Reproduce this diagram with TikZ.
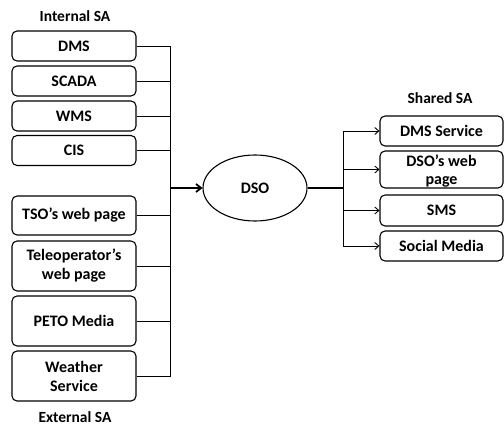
\documentclass[tikz,border=0pt]{standalone}
\usepackage{fontspec}
\setmainfont{Carlito}
\usetikzlibrary{arrows.meta,shapes.geometric}
\begin{document}
\begin{tikzpicture}[x=1pt,y=-1pt,
  sbox/.style={draw,line width=1.1pt,rounded corners=5pt,minimum width=124pt,inner sep=0pt,align=center,font=\bfseries\fontsize{16}{19}\selectfont},
  rbox/.style={draw,line width=1.1pt,rounded corners=5pt,minimum width=123pt,inner sep=0pt,align=center,font=\bfseries\fontsize{16}{18.5}\selectfont},
  lbl/.style={font=\bfseries\fontsize{15.5}{16}\selectfont},
  conn/.style={line width=0.9pt},
  arr/.style={line width=0.9pt,-{Straight Barb[length=4pt,width=7pt]}}]
\useasboundingbox (0,0) rectangle (504,425);
\node[lbl] (int) at (75,16) {Internal SA};
\node[lbl] (ext) at (75,417) {External SA};
\node[lbl] (sh) at (440,98) {Shared SA};
% left boxes
\node[sbox,minimum height=30pt] (dms) at (74,46) {DMS};
\node[sbox,minimum height=30pt] (scada) at (74,81) {SCADA};
\node[sbox,minimum height=30pt] (wms) at (74,116) {WMS};
\node[sbox,minimum height=30pt] (cis) at (74,150.5) {CIS};
\node[sbox,minimum height=39pt] (tso) at (74,215.5) {TSO’s web page};
\node[sbox,minimum height=50pt] (tel) at (74,266) {Teleoperator’s\\web page};
\node[sbox,minimum height=50pt] (peto) at (74,321) {PETO Media};
\node[sbox,minimum height=50pt] (wea) at (74,376) {Weather\\Service};
% ellipse
\node[draw,ellipse,line width=1.1pt,minimum width=104pt,minimum height=66pt,inner sep=0pt,font=\bfseries\fontsize{16}{16}\selectfont] (dso) at (255,188) {DSO};
% right boxes
\node[rbox,minimum height=30pt] (dmss) at (441.5,131) {DMS Service};
\node[rbox,minimum height=37pt,text depth=0pt] (web) at (441.5,169.5) {DSO’s web\\page};
\node[rbox,minimum height=31pt] (sms) at (441.5,210.5) {SMS};
\node[rbox,minimum height=30pt] (soc) at (441.5,246) {Social Media};
% bus left
\coordinate (bt) at (170,46);
\coordinate (bb) at (170,376);
\coordinate (bm) at (170,188);
\draw[conn] (dms.east) -- (bt) -- (bb) -- (wea.east);
\foreach \n in {scada,wms,cis,tso,tel,peto}{
  \draw[conn] (\n.east) -- (\n.east -| bt);
}
\draw[line width=1.8pt,-{Straight Barb[length=5pt,width=8pt]}] (bm) -- (dso.west);
% bus right
\coordinate (rm) at (343,188);
\coordinate (rt) at (343,131);
\coordinate (rb) at (343,246);
\draw[line width=1.8pt] (dso.east) -- (rm);
\draw[conn] (rt) -- (rb);
\foreach \n in {dmss,web,sms,soc}{
  \draw[arr] (\n.west -| rt) -- (\n.west);
}
\end{tikzpicture}
\end{document}
